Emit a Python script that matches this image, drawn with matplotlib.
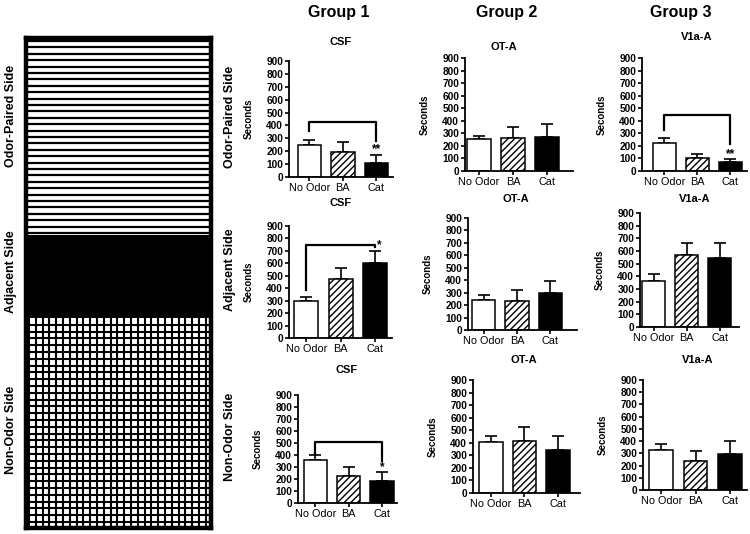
import numpy as np
import matplotlib
matplotlib.use("Agg")
import matplotlib.pyplot as plt

plt.rcParams['font.family'] = ['Liberation Sans', 'DejaVu Sans']
plt.rcParams['hatch.linewidth'] = 1.0

# dados
groups = ["Group 1", "Group 2", "Group 3"]
drugs = ["CSF", "OT-A", "V1a-A"]
sides = ["Odor-Paired Side", "Adjacent Side", "Non-Odor Side"]
conditions = ["No Odor", "BA", "Cat"]

# media por lado (linhas) e condicao, para cada grupo
g1_mean = [[246, 194, 111], [298, 473, 606], [356, 227, 186]]
g1_sem = [[39, 78, 57], [29, 91, 91], [44, 74, 74]]
g2_mean = [[251, 259, 273], [242, 234, 296], [410, 418, 344]]
g2_sem = [[27, 94, 99], [40, 89, 99], [45, 111, 111]]
g3_mean = [[222, 104, 70], [360, 570, 545], [325, 235, 295]]
g3_sem = [[39, 32, 22], [55, 95, 115], [50, 85, 110]]

means = [g1_mean, g2_mean, g3_mean]
sems = [g1_sem, g2_sem, g3_sem]

# significancia: (linha, grupo) -> altura do colchete, perna esq, perna dir, texto, altura do texto
sig = {
    (0, 0): (430, 360, 280, "**", 215),
    (1, 0): (750, 385, 735, "*", 745),
    (2, 0): (508, 410, 350, "*", 295),
    (0, 2): (449, 326, 214, "**", 136),
}

W, H = 750, 534
fig = plt.figure(figsize=(7.5, 5.34), dpi=100)

def px_axes(l, t, r, b):
    return fig.add_axes([l / W, 1 - b / H, (r - l) / W, (b - t) / H])

# ---- diagrama da caixa ----
dx0, dx1, dy0, dy1 = 26, 211, 38, 528
y_stripe_end, y_black_end = 235, 318
axd = px_axes(dx0, dy0, dx1, dy1)
axd.set_xlim(dx0, dx1)
axd.set_ylim(dy1, dy0)
axd.hlines(np.arange(dy0 + 3, y_stripe_end, 6.4), dx0, dx1, color="black", lw=1.6)
axd.axhspan(y_stripe_end, y_black_end, color="black", lw=0)
axd.vlines(np.arange(dx0 + 3, dx1, 6.8), y_black_end, dy1, color="black", lw=1.5)
axd.hlines(np.arange(y_black_end + 6.8, dy1, 6.8), dx0, dx1, color="black", lw=1.5)
axd.set_xticks([])
axd.set_yticks([])
for s in axd.spines.values():
    s.set_linewidth(3.2)

side_y_left = [116, 272, 430]
side_y_right = [117, 270, 437]
for lbl, yl, yr in zip(sides, side_y_left, side_y_right):
    fig.text(11 / W, 1 - yl / H, lbl, rotation=90, ha="center", va="center",
             fontsize=9, fontweight="bold")
    fig.text(230 / W, 1 - yr / H, lbl, rotation=90, ha="center", va="center",
             fontsize=9, fontweight="bold")

# ---- titulos dos grupos ----
for g, xc in zip(groups, [339, 507, 681]):
    fig.text(xc / W, 1 - 13 / H, g, ha="center", va="center",
             fontsize=11.5, fontweight="bold")

# ---- paineis ----
# (esq, topo, dir, base, xmin, xmax) em pixels
layout = {
    (0, 0): (289, 61, 393, 177, -0.61, 2.5),
    (1, 0): (289, 226, 392, 338, -0.51, 2.5),
    (2, 0): (298, 395, 397, 503, -0.52, 2.45),
    (0, 1): (465, 58, 573, 171, -0.41, 2.76),
    (1, 1): (468, 218, 577, 330, -0.47, 2.8),
    (2, 1): (473, 380, 580, 493, -0.53, 2.65),
    (0, 2): (642, 58, 747, 171, -0.68, 2.5),
    (1, 2): (640, 213, 739, 327, -0.42, 2.58),
    (2, 2): (643, 380, 747, 490, -0.54, 2.51),
}
title_pos = {
    (0, 0): (341, 42), (1, 0): (341, 203), (2, 0): (347, 370),
    (0, 1): (504, 47), (1, 1): (516, 199), (2, 1): (524, 360),
    (0, 2): (697, 37), (1, 2): (695, 199), (2, 2): (698, 360),
}

x = np.arange(len(conditions))
faces = ["white", "white", "black"]
hatches = [None, "/////", None]

for gi in range(3):
    for ri in range(3):
        l, t, r, b, xmin, xmax = layout[(ri, gi)]
        ax = px_axes(l, t, r, b)
        m = means[gi][ri]
        e = sems[gi][ri]
        ax.errorbar(x, m, yerr=[[0, 0, 0], e], fmt="none", ecolor="black",
                    elinewidth=1.2, capsize=4, capthick=1.2, zorder=1)
        ax.bar(x, m, width=0.7, color=faces, edgecolor="black",
               hatch=hatches, linewidth=1.1, zorder=2)
        ax.set_xlim(xmin, xmax)
        ax.set_ylim(0, 900)
        ax.set_yticks(np.arange(0, 901, 100))
        ax.set_xticks(x)
        ax.set_xticklabels(conditions, fontsize=7.8)
        for lab in ax.get_yticklabels():
            lab.set_fontweight("bold")
            lab.set_fontsize(7.3)
        ax.tick_params(axis="both", width=1.2, length=3, pad=1.2)
        ax.spines["top"].set_visible(False)
        ax.spines["right"].set_visible(False)
        ax.spines["left"].set_linewidth(1.3)
        ax.spines["bottom"].set_linewidth(1.3)
        ax.set_ylabel("Seconds", fontsize=7, fontweight="bold")
        ax.yaxis.set_label_coords(-35 / (r - l), 0.5)
        ax.patch.set_alpha(0)

        tx, ty = title_pos[(ri, gi)]
        fig.text(tx / W, 1 - ty / H, drugs[gi], ha="center", va="center",
                 fontsize=8, fontweight="bold")

        if (ri, gi) in sig:
            top, leg_l, leg_r, txt, ty2 = sig[(ri, gi)]
            ax.plot([x[0], x[0], x[2], x[2]], [leg_l, top, top, leg_r],
                    color="black", lw=1.6, clip_on=False)
            xt = x[2] + (0.12 if txt == "*" and ri == 1 else 0)
            ax.text(xt, ty2, txt, ha="center", va="center",
                    fontsize=8.5, fontweight="bold")

fig.savefig("out.png", dpi=100)
